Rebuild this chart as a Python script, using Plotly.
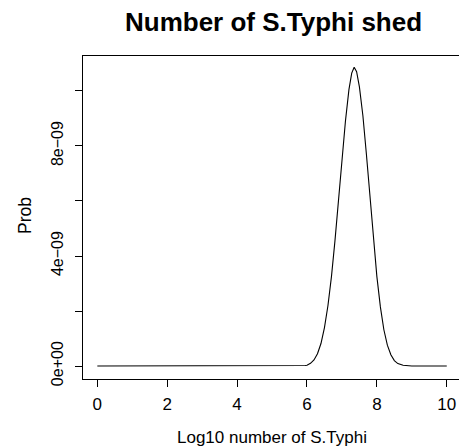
import plotly.graph_objects as go

# Log10 count of S.Typhi shed and its probability (scaled by 1e-9 below)
log10_count = [0.0, 2.0, 4.0, 5.5, 5.8, 5.95, 6.0, 6.1, 6.2, 6.3, 6.4, 6.5, 6.6,
               6.7, 6.8, 6.9, 7.0, 7.1, 7.2, 7.28, 7.35, 7.42, 7.5, 7.6, 7.7,
               7.8, 7.9, 8.0, 8.1, 8.2, 8.3, 8.4, 8.5, 8.6, 8.75, 9.0, 10.0]
prob_e9 = [0.0, 0.0, 0.0, 0.0, 0.005, 0.02, 0.03, 0.1, 0.22, 0.45, 0.82, 1.4, 2.2,
           3.25, 4.55, 6.0, 7.5, 8.9, 10.05, 10.65, 10.86, 10.7, 10.15, 9.1, 7.7,
           6.15, 4.75, 3.25, 2.15, 1.32, 0.76, 0.41, 0.2, 0.09, 0.03, 0.003, 0.0]
prob = [v * 1e-9 for v in prob_e9]

x_ticks = [0, 2, 4, 6, 8, 10]
y_ticks = [0, 2e-9, 4e-9, 6e-9, 8e-9, 1e-8]
y_tick_text = ["0e+00", "", "4e\u221209", "", "8e\u221209", ""]

FONT = "Liberation Sans, Arial, Helvetica, sans-serif"

fig = go.Figure()
fig.add_trace(go.Scatter(x=log10_count, y=prob, mode="lines",
                         line=dict(color="black", width=1.1), hoverinfo="skip"))

W, H = 459, 447
L, R, T, B = 83, 0, 56, 68

fig.update_layout(
    width=W, height=H,
    margin=dict(l=L, r=R, t=T, b=B, pad=0),
    paper_bgcolor="white", plot_bgcolor="white",
    showlegend=False,
    font=dict(family=FONT, color="black", size=16),
    xaxis=dict(range=[-0.41, 10.35], tickvals=x_ticks, ticktext=[str(v) for v in x_ticks],
               showgrid=False, zeroline=False, showline=True, linecolor="black",
               linewidth=1, mirror=True, ticks="outside", ticklen=7, tickcolor="black",
               tickwidth=1, tickfont=dict(size=17, family=FONT), ticklabelstandoff=3),
    yaxis=dict(range=[-0.47e-9, 11.27e-9], tickvals=y_ticks, ticktext=y_tick_text,
               tickangle=-90, showgrid=False, zeroline=False, showline=True,
               linecolor="black", linewidth=1, ticks="outside", ticklen=7,
               tickcolor="black", tickwidth=1, tickfont=dict(size=16, family=FONT),
               ticklabelstandoff=6),
)

plot_w = W - L - R
plot_h = H - T - B


def px_x(px):
    return (px - L) / plot_w


def px_y(py):
    return (H - B - py) / plot_h


fig.add_annotation(text="<b>Number of S.Typhi shed</b>", xref="paper", yref="paper",
                   x=px_x(273), y=px_y(22), xanchor="center", yanchor="middle",
                   showarrow=False, font=dict(size=26, family=FONT))
fig.add_annotation(text="Log10 number of S.Typhi", xref="paper", yref="paper",
                   x=px_x(272), y=px_y(437), xanchor="center", yanchor="middle",
                   showarrow=False, font=dict(size=17, family=FONT))
fig.add_annotation(text="Prob", xref="paper", yref="paper",
                   x=px_x(25), y=px_y(216), xanchor="center", yanchor="middle",
                   textangle=-90, showarrow=False, font=dict(size=17.5, family=FONT))

fig.write_html("out.html")
